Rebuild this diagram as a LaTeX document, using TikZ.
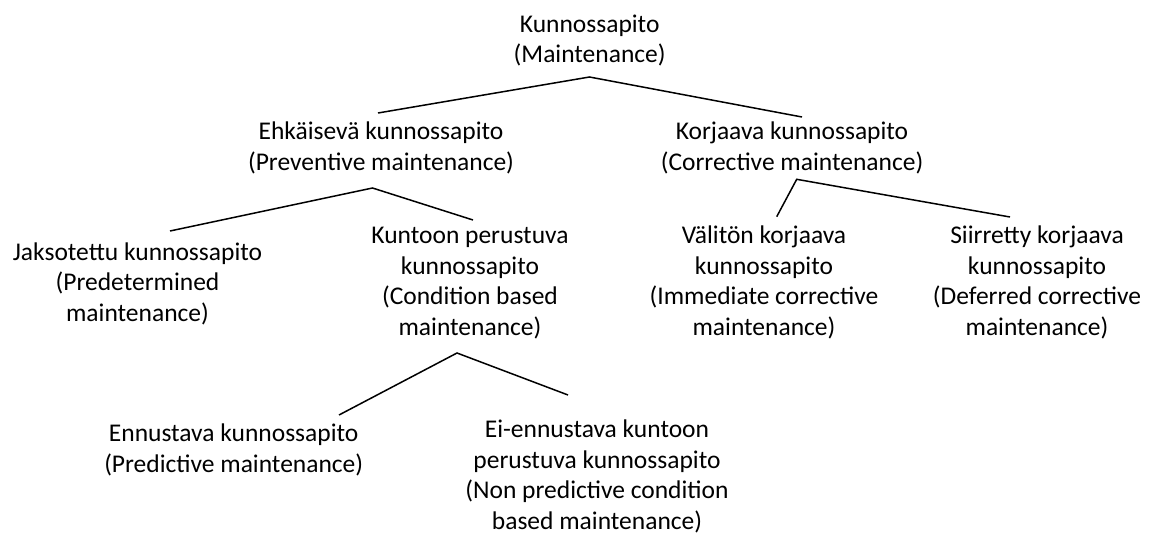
\documentclass[tikz,border=0pt]{standalone}
\usepackage{fontspec}
\setmainfont{Carlito}
\begin{document}
\begin{tikzpicture}[x=1pt,y=-1pt,
  term/.style={align=center,inner sep=0pt,anchor=north,
    font=\fontsize{25.5}{30.5}\selectfont},
  branch/.style={line width=1.5pt,black}]
\useasboundingbox (0,0) rectangle (1154,535);

% category labels (every line carries a strut, so the first baseline sits 21.35pt below the top)
\node[term] (root) at (589.7,10.6) {\strut Kunnossapito\\\strut(Maintenance)};
\node[term] (prev) at (381,118.2) {\strut Ehkäisevä kunnossapito\\\strut(Preventive maintenance)};
\node[term] (corr) at (792,118.2) {\strut Korjaava kunnossapito\\\strut(Corrective maintenance)};
\node[term] (pred) at (137.5,238.6) {\strut Jaksotettu kunnossapito\\\strut(Predetermined\\\strut maintenance)};
\node[term] (cond) at (470,222) {\strut Kuntoon perustuva\\\strut kunnossapito\\\strut(Condition based\\\strut maintenance)};
\node[term] (imm)  at (764,222) {\strut Välitön korjaava\\\strut kunnossapito\\\strut(Immediate corrective\\\strut maintenance)};
\node[term] (def)  at (1037,222) {\strut Siirretty korjaava\\\strut kunnossapito\\\strut(Deferred corrective\\\strut maintenance)};
\node[term] (pdm)  at (233.7,420) {\strut Ennustava kunnossapito\\\strut(Predictive maintenance)};
\node[term] (npdm) at (597,416.4) {\strut Ei-ennustava kuntoon\\\strut perustuva kunnossapito\\\strut(Non predictive condition\\\strut based maintenance)};

% branch points and branch ends
\coordinate (rootJ) at (589.5,77);
\coordinate (prevE) at (378,113);
\coordinate (corrE) at (802,117);
\coordinate (prevJ) at (372.5,188);
\coordinate (predE) at (170,231);
\coordinate (condE) at (473,220);
\coordinate (corrJ) at (796.7,179.3);
\coordinate (immE)  at (776.7,216.7);
\coordinate (defE)  at (1010,217);
\coordinate (condJ) at (457,353);
\coordinate (pdmE)  at (339,415);
\coordinate (npdmE) at (568,395);

\draw[branch] (prevE) -- (rootJ) -- (corrE);
\draw[branch] (predE) -- (prevJ) -- (condE);
\draw[branch] (immE) -- (corrJ) -- (defE);
\draw[branch] (pdmE) -- (condJ) -- (npdmE);
\end{tikzpicture}
\end{document}
